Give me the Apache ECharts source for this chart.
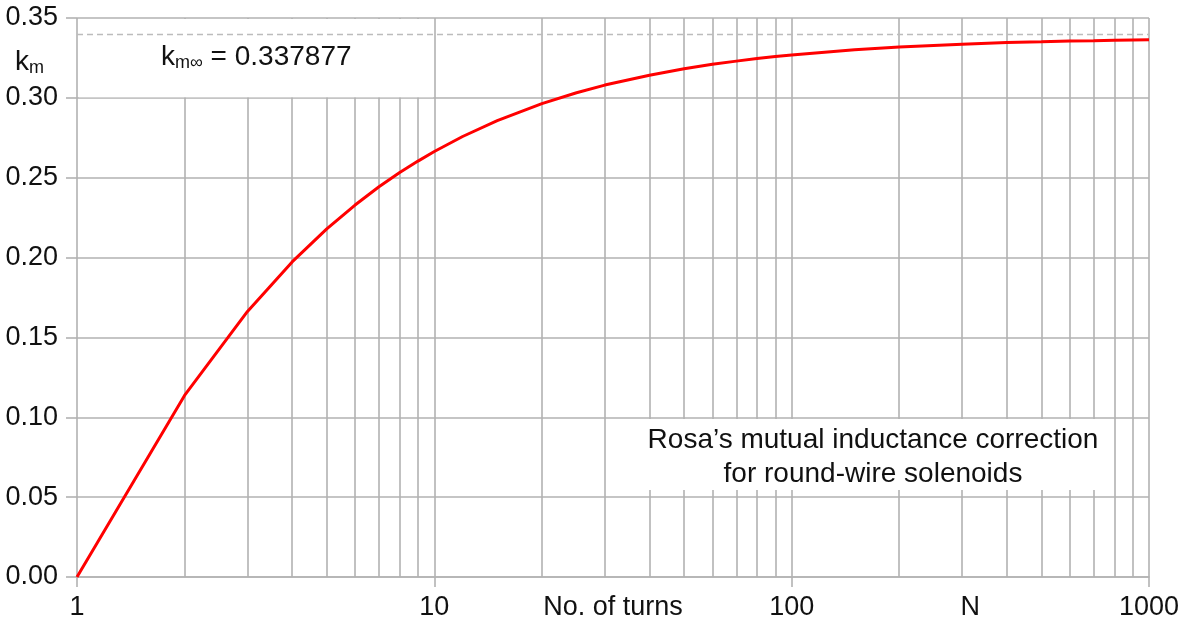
<!DOCTYPE html>
<html>
<head>
<meta charset="utf-8">
<title>Rosa's mutual inductance correction</title>
<script src="https://cdn.jsdelivr.net/npm/echarts@6/dist/echarts.min.js"></script>
<style>
  html, body { margin: 0; padding: 0; background: #ffffff; }
  #chart { width: 1184px; height: 622px; }
</style>
</head>
<body>
<div id="chart"></div>
<script>
// Number of turns N and Rosa's correction km(N)
const turns = [1, 2, 3, 4, 5, 6, 7, 8, 9, 10, 12, 15, 20, 25, 30, 40, 50, 60, 70, 80, 90,
               100, 150, 200, 300, 400, 500, 600, 700, 800, 900, 1000];
const kmValues = [0.0000, 0.1137, 0.1663, 0.1973, 0.2180, 0.2329, 0.2443, 0.2532, 0.2604, 0.2664,
                  0.2758, 0.2857, 0.2964, 0.3032, 0.3080, 0.3142, 0.3182, 0.3210, 0.3230, 0.3246,
                  0.3259, 0.3269, 0.3301, 0.3318, 0.3336, 0.3346, 0.3351, 0.3356, 0.3358, 0.3361,
                  0.3363, 0.3364];
// Limit for an infinite number of turns
const kmInfinity = 0.337877;

// Intermediate gridlines inside each decade
const minorTurns = [2, 3, 4, 5, 6, 7, 8, 9, 20, 30, 40, 50, 60, 70, 80, 90,
                    200, 300, 400, 500, 600, 700, 800, 900];

// Axis ranges and captions
const yMin = 0, yMax = 0.35, yStep = 0.05;
const xMin = 1, xMax = 1000;
// captions placed at half-decade positions (log10 N)
const xCaptions = { '1.5': 'No. of turns', '2.5': 'N' };

const FONT = 'Arial, "Liberation Sans", sans-serif';
const GRID = '#b2b2b2';
const TEXT = '#111111';
const LABEL_SIZE = 27;

const chart = echarts.init(document.getElementById('chart'), null, { renderer: 'canvas' });

chart.setOption({
  animation: false,
  backgroundColor: '#ffffff',
  grid: { left: 77, right: 35, top: 18, bottom: 45, containLabel: false },
  xAxis: [
    {
      type: 'log',
      logBase: 10,
      min: xMin,
      max: xMax,
      axisLine: { show: true, lineStyle: { color: GRID, width: 1.6 } },
      axisTick: { show: true, length: 10, lineStyle: { color: GRID, width: 1.6 } },
      axisLabel: {
        color: TEXT, fontSize: LABEL_SIZE, fontFamily: FONT, margin: 17,
        formatter: v => String(Math.round(v))
      },
      splitLine: { show: true, lineStyle: { color: GRID, width: 1.6 } }
    },
    {
      type: 'value',
      position: 'bottom',
      min: 0,
      max: 3,
      interval: 0.5,
      axisLine: { show: false },
      axisTick: { show: false },
      splitLine: { show: false },
      axisLabel: {
        color: TEXT, fontSize: LABEL_SIZE, fontFamily: FONT, margin: 17,
        formatter: v => xCaptions[String(v)] || ''
      }
    }
  ],
  yAxis: {
    type: 'value',
    min: yMin,
    max: yMax,
    interval: yStep,
    axisLine: { show: false },
    axisTick: { show: true, length: 11, lineStyle: { color: GRID, width: 1.6 } },
    axisLabel: {
      color: TEXT, fontSize: LABEL_SIZE, fontFamily: FONT, margin: 19,
      formatter: v => v.toFixed(2)
    },
    splitLine: { show: true, lineStyle: { color: GRID, width: 1.6 } }
  },
  graphic: [
    // blank panel behind the km-infinity caption
    { type: 'rect', z: 3, shape: { x: 79, y: 18.9, width: 354, height: 78.3 }, style: { fill: '#ffffff' } },
    // blank panel behind the chart caption
    { type: 'rect', z: 3, shape: { x: 614, y: 419, width: 490, height: 71 }, style: { fill: '#ffffff' } },
    {
      type: 'text', z: 6, x: 161, y: 57,
      style: {
        text: '{k|k}{s|m∞}{k| = 0.337877}',
        verticalAlign: 'middle',
        rich: {
          k: { fontSize: 28, fontFamily: FONT, fill: TEXT },
          s: { fontSize: 18, fontFamily: FONT, fill: TEXT, padding: [12, 0, 0, 0] }
        }
      }
    },
    {
      type: 'text', z: 6, x: 15, y: 62,
      style: {
        text: '{k|k}{s|m}',
        verticalAlign: 'middle',
        rich: {
          k: { fontSize: 28, fontFamily: FONT, fill: TEXT },
          s: { fontSize: 18, fontFamily: FONT, fill: TEXT, padding: [12, 0, 0, 0] }
        }
      }
    },
    {
      type: 'text', z: 6, x: 873, y: 457,
      style: {
        text: 'Rosa’s mutual inductance correction\nfor round-wire solenoids',
        textAlign: 'center',
        verticalAlign: 'middle',
        fontSize: 28,
        lineHeight: 34,
        fontFamily: FONT,
        fill: TEXT
      }
    }
  ],
  series: [
    {
      // intermediate vertical gridlines
      type: 'line',
      z: 1,
      silent: true,
      data: [],
      markLine: {
        z: 1,
        silent: true,
        symbol: 'none',
        label: { show: false },
        lineStyle: { color: GRID, width: 1.6, type: 'solid' },
        data: minorTurns.map(n => ({ xAxis: n }))
      }
    },
    {
      type: 'line',
      z: 5,
      data: turns.map((n, i) => [n, kmValues[i]]),
      showSymbol: false,
      symbol: 'none',
      lineStyle: { color: '#ff0000', width: 3 },
      markLine: {
        z: 5,
        silent: true,
        symbol: 'none',
        label: { show: false },
        lineStyle: { color: '#bcbcbc', width: 1.3, type: [6, 4] },
        data: [{ yAxis: kmInfinity }]
      }
    }
  ]
});
</script>
</body>
</html>
